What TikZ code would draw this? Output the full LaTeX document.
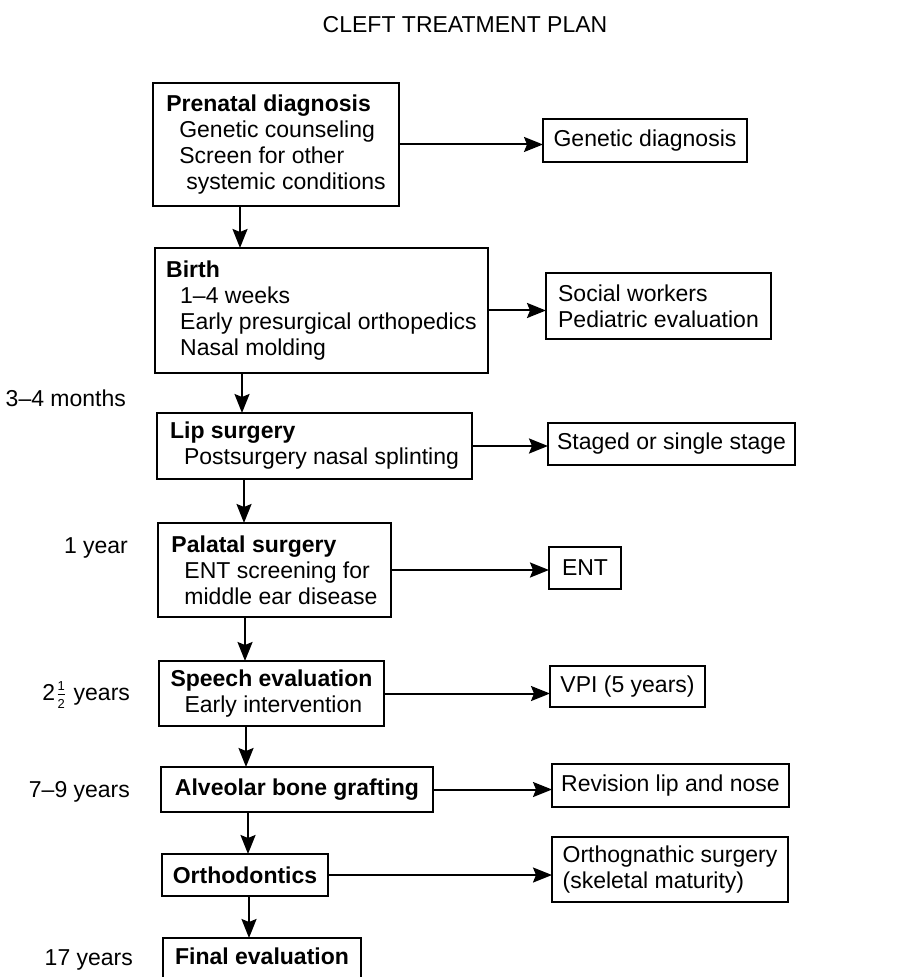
\documentclass[tikz,border=0pt]{standalone}
\usepackage{amsmath}
\usepackage{fontspec}
\setmainfont{Liberation Sans}
\usepackage{tikz}
\usetikzlibrary{arrows.meta}

\newcommand{\halfyr}{\ensuremath{\genfrac{}{}{0.4pt}{1}{\mbox{\fontsize{6.5}{6.5}\selectfont 1}}{\mbox{\fontsize{6.5}{6.5}\selectfont 2}}}}

\begin{document}
\begin{tikzpicture}[x=0.5pt, y=-0.5pt, >={Stealth[length=9.5pt,width=7.5pt,inset=1.5pt]},
    font=\fontsize{11.5}{13}\selectfont,
    stage/.style={draw, line width=1.2pt, anchor=north west, outer sep=0pt,
      inner xsep=2pt, inner ysep=0pt, align=left},
    flow/.style={->, line width=1pt},
    age/.style={anchor=base east}]
    \useasboundingbox (0,0) rectangle (899,977);
    \clip (0,0) rectangle (899,977);

    % Title
    \node[anchor=base] (title) at (465,33) {CLEFT TREATMENT PLAN};

    % Main column
    \node[stage, minimum width=123pt, minimum height=61.5pt] (pre) at (153,83)
      {\textbf{Prenatal diagnosis}\\\hspace*{6.5pt}Genetic counseling\\\hspace*{6.5pt}Screen for other\\\hspace*{10pt}systemic conditions};
    \node[stage, minimum width=166.5pt, minimum height=62.5pt] (birth) at (155,248)
      {\textbf{Birth}\\\hspace*{7pt}1--4 weeks\\\hspace*{7pt}Early presurgical orthopedics\\\hspace*{7pt}Nasal molding};
    \node[stage, minimum width=157.5pt, minimum height=33pt] (lip) at (157,413)
      {\textbf{Lip surgery}\\\hspace*{7pt}Postsurgery nasal splinting};
    \node[stage, minimum width=116.5pt, minimum height=47pt] (palate) at (158,523)
      {\textbf{Palatal surgery}\\\hspace*{6.5pt}ENT screening for\\\hspace*{6.5pt}middle ear disease};
    \node[stage, minimum width=112.5pt, minimum height=32.5pt] (speech) at (159,661)
      {\textbf{Speech evaluation}\\\hspace*{7pt}Early intervention};
    \node[stage, minimum width=136pt, minimum height=22.5pt] (graft) at (161,767)
      {\textbf{Alveolar bone grafting}};
    \node[stage, minimum width=83pt, minimum height=21pt] (ortho) at (162,854)
      {\textbf{Orthodontics}};
    \node[stage, minimum width=99pt, text height=13pt, text depth=15pt] (final) at (163,938)
      {\textbf{Final evaluation}};

    % Side column
    \node[stage, minimum width=102pt, minimum height=21.5pt] (gen) at (543,119) {Genetic diagnosis};
    \node[stage, minimum width=112.5pt, minimum height=33pt] (social) at (546,273) {Social workers\\Pediatric evaluation};
    \node[stage, minimum width=123.5pt, minimum height=21pt] (staged) at (548,423) {Staged or single stage};
    \node[stage, minimum width=36pt, minimum height=21pt] (ent) at (549,547) {ENT};
    \node[stage, minimum width=77.5pt, minimum height=20.5pt] (vpi) at (550,666) {VPI (5 years)};
    \node[stage, minimum width=118.5pt, minimum height=21.5pt] (revision) at (552,764) {Revision lip and nose};
    \node[stage, minimum width=118pt, minimum height=32.5pt] (orthog) at (552,837) {Orthognathic surgery\\(skeletal maturity)};

    % Ages
    \node[age] (m34) at (133,407) {3--4 months};
    \node[age] (y1) at (135,553) {1 year};
    \node[age] (y25) at (137,700) {2\halfyr\ years};
    \node[age] (y79) at (137,797) {7--9 years};
    \node[age] (y17) at (140,965) {17 years};

    % Down the main column
    \foreach \a/\b in {pre/birth, birth/lip, lip/palate, palate/speech, speech/graft, graft/ortho, ortho/final}
    {
        \draw[flow] ([xshift=43.5pt]\a.south west) -- ([xshift=43.5pt]\a.south west |- \b.north);
    }

    % Across to the side column
    \foreach \a/\b in {pre/gen, birth/social, lip/staged, palate/ent, speech/vpi, graft/revision, ortho/orthog}
    {
        \draw[flow] (\a.east) -- (\a.east -| \b.west);
    }

\end{tikzpicture}
\end{document}
